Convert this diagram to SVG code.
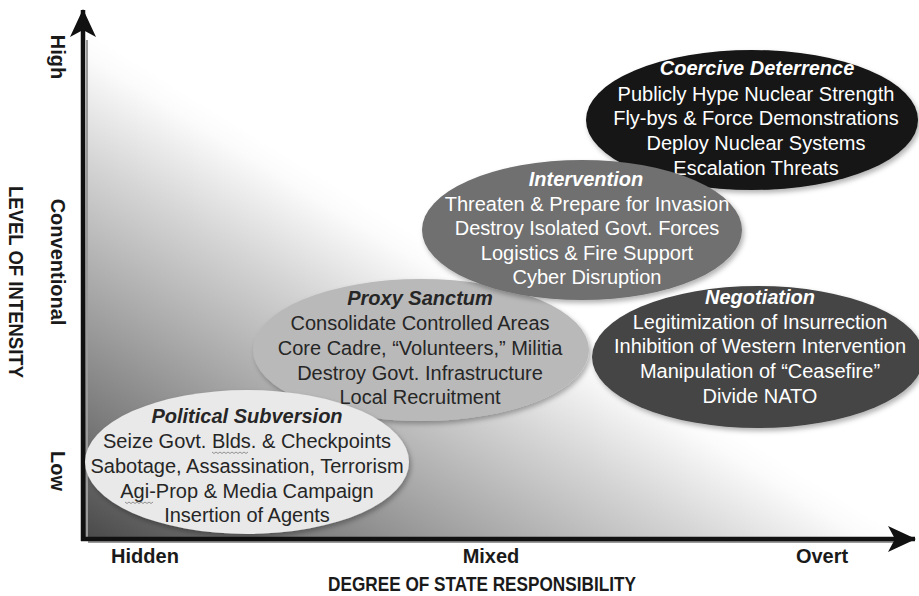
<svg xmlns="http://www.w3.org/2000/svg" width="919" height="596" viewBox="0 0 919 596">
<defs>
<linearGradient id="bg" gradientUnits="userSpaceOnUse" x1="85" y1="537" x2="312" y2="170">
<stop offset="0" stop-color="#4a4a4a"/>
<stop offset="0.25" stop-color="#7c7c7c"/>
<stop offset="0.5" stop-color="#a9a9a9"/>
<stop offset="0.75" stop-color="#d5d5d5"/>
<stop offset="0.95" stop-color="#fbfbfb"/>
<stop offset="1" stop-color="#ffffff"/>
</linearGradient>
<filter id="sh" x="-10%" y="-10%" width="125%" height="130%">
<feDropShadow dx="2" dy="3" stdDeviation="2.5" flood-color="#000" flood-opacity="0.3"/>
</filter>
<marker id="ah" viewBox="0 0 30 26" refX="27" refY="13" markerWidth="30" markerHeight="26" markerUnits="userSpaceOnUse" orient="auto">
<path d="M0,0 L28,13 L0,26 L7,13 Z" fill="#111"/>
</marker>
</defs>
<style>
.t{font-family:"Liberation Sans",Arial,sans-serif;font-size:20px;text-anchor:middle}
.h{font-weight:bold;font-style:italic}
.w{fill:#ffffff}
.k{fill:#262626}
.ax{font-family:"Liberation Sans",Arial,sans-serif;font-weight:bold;fill:#1a1a1a;text-anchor:middle}
</style>
<rect width="919" height="596" fill="#ffffff"/>
<polygon points="85,30 85,538 905,538" fill="url(#bg)"/>

<g id="connectors">
<line x1="88" y1="542" x2="900" y2="542" stroke="#9a9a9a" stroke-width="2"/>
<line x1="87" y1="540" x2="87" y2="40" stroke="#9a9a9a" stroke-width="2"/>
<line x1="83" y1="541" x2="83" y2="10" stroke="#111" stroke-width="4.5" marker-end="url(#ah)"/>
<line x1="81" y1="539" x2="915" y2="539" stroke="#111" stroke-width="4.5" marker-end="url(#ah)"/>
</g>

<g id="proxy-sanctum">
<ellipse cx="421" cy="350" rx="168" ry="71" fill="#b9b9b9" filter="url(#sh)"/>
<text class="t h k" x="420" y="305">Proxy Sanctum</text>
<text class="t k" x="420" y="330">Consolidate Controlled Areas</text>
<text class="t k" x="420" y="355">Core Cadre, “Volunteers,” Militia</text>
<text class="t k" x="420" y="380">Destroy Govt. Infrastructure</text>
<text class="t k" x="420" y="404">Local Recruitment</text>
</g>

<g id="political-subversion">
<ellipse cx="247" cy="462" rx="162" ry="72" fill="#e9e9e9" filter="url(#sh)"/>
<text class="t h k" x="247" y="423">Political Subversion</text>
<text class="t k" x="247" y="448">Seize Govt. Blds. &amp; Checkpoints</text>
<text class="t k" x="247" y="473">Sabotage, Assassination, Terrorism</text>
<text class="t k" x="247" y="498">Agi-Prop &amp; Media Campaign</text>
<text class="t k" x="247" y="522">Insertion of Agents</text>
<path d="M212,452 l2,1.5 l2,-1.5 l2,1.5 l2,-1.5 l2,1.5 l2,-1.5 l2,1.5 l2,-1.5 l2,1.5 l2,-1.5 l2,1.5 l2,-1.5 l2,1.5 l2,-1.5 l2,1.5 l2,-1.5 l2,1.5 l2,-1.5" fill="none" stroke="#7a7a7a" stroke-width="0.8"/>
<path d="M125,502 l2,1.5 l2,-1.5 l2,1.5 l2,-1.5 l2,1.5 l2,-1.5 l2,1.5 l2,-1.5 l2,1.5 l2,-1.5 l2,1.5 l2,-1.5 l2,1.5 l2,-1.5" fill="none" stroke="#7a7a7a" stroke-width="0.8"/>
</g>

<g id="coercive-deterrence">
<ellipse cx="752" cy="120" rx="166" ry="70" fill="#141414" filter="url(#sh)"/>
<text class="t h w" x="757" y="75">Coercive Deterrence</text>
<text class="t w" x="756" y="101">Publicly Hype Nuclear Strength</text>
<text class="t w" x="756" y="125">Fly-bys &amp; Force Demonstrations</text>
<text class="t w" x="756" y="150">Deploy Nuclear Systems</text>
<text class="t w" x="756" y="175">Escalation Threats</text>
</g>

<g id="negotiation">
<ellipse cx="758" cy="357" rx="166" ry="71" fill="#454545" filter="url(#sh)"/>
<text class="t h w" x="760" y="304">Negotiation</text>
<text class="t w" x="760" y="329">Legitimization of Insurrection</text>
<text class="t w" x="760" y="353">Inhibition of Western Intervention</text>
<text class="t w" x="760" y="378">Manipulation of “Ceasefire”</text>
<text class="t w" x="760" y="403">Divide NATO</text>
</g>

<g id="intervention">
<ellipse cx="582" cy="230" rx="160" ry="70" fill="#707070" filter="url(#sh)"/>
<text class="t h w" x="586" y="186">Intervention</text>
<text class="t w" x="587" y="211">Threaten &amp; Prepare for Invasion</text>
<text class="t w" x="587" y="235">Destroy Isolated Govt. Forces</text>
<text class="t w" x="587" y="260">Logistics &amp; Fire Support</text>
<text class="t w" x="587" y="284">Cyber Disruption</text>
</g>

<g id="axis-labels">
<text class="ax" font-size="20" transform="translate(51,57) rotate(90)">High</text>
<text class="ax" font-size="20" transform="translate(51,262) rotate(90)">Conventional</text>
<text class="ax" font-size="20" transform="translate(51,471) rotate(90)">Low</text>
<text class="ax" font-size="19.5" textLength="192" lengthAdjust="spacingAndGlyphs" transform="translate(9,282) rotate(90)">LEVEL OF INTENSITY</text>
<text class="ax" font-size="20" x="145" y="563">Hidden</text>
<text class="ax" font-size="20" x="491" y="563">Mixed</text>
<text class="ax" font-size="20" x="822" y="563">Overt</text>
<text class="ax" font-size="19.5" textLength="308" lengthAdjust="spacingAndGlyphs" x="482" y="591">DEGREE OF STATE RESPONSIBILITY</text>
</g>
</svg>
